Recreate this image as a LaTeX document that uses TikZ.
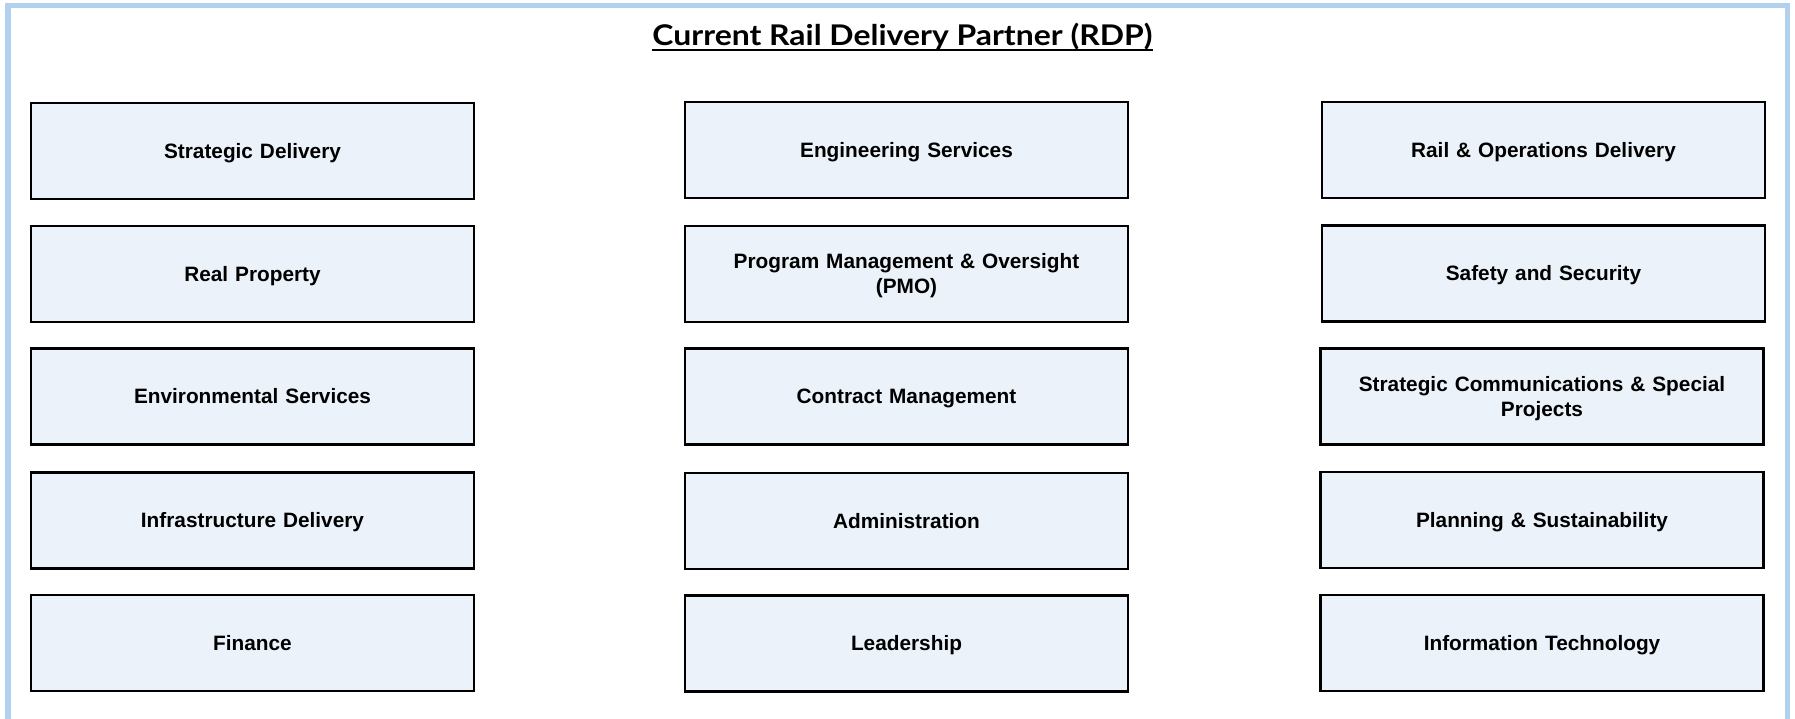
\documentclass[tikz,border=0pt]{standalone}
\usepackage{fontspec}
\usepackage{graphicx}
\setmainfont{Liberation Sans}
\newfontfamily\titlefont{Lato}
\definecolor{framecol}{RGB}{178,209,238}
\definecolor{boxfill}{RGB}{235,242,250}
\begin{document}
\begin{tikzpicture}[x=1pt,y=-1pt,
  unit/.style={draw=black, line width=2.4pt, fill=boxfill, minimum width=443pt, minimum height=96pt,
    inner sep=2pt, align=center, text width=430pt,
    execute at begin node={\rule{0pt}{19.5pt}},
    execute at end node={\rule[-5pt]{0pt}{5pt}},
    font=\fontsize{20.8}{25}\selectfont\bfseries},
  titlestyle/.style={inner sep=0pt, anchor=base, font=\titlefont\fontsize{28.5}{32}\selectfont\bfseries}]
\useasboundingbox (0,0) rectangle (1795,719);
\fill[white] (0,0) rectangle (1795,719);
\draw[framecol, line width=5.5pt] (8,5.5) rectangle (1787.5,722);
\node[titlestyle] (title) at (902.5,45.5) {\scalebox{1.12}[1]{Current Rail Delivery Partner (RDP)}};
\draw[line width=2pt] ([yshift=-4.5pt]title.base west) -- ([yshift=-4.5pt]title.base east);
% column 1
\node[unit] (sd) at (252.5,151) {Strategic Delivery};
\node[unit] (rp) at (252.5,274) {Real Property};
\node[unit] (es) at (252.5,396.5) {Environmental Services};
\node[unit] (id) at (252.5,520.5) {Infrastructure Delivery};
\node[unit] (fi) at (252.5,643) {Finance};
% column 2
\node[unit] (en) at (906.5,150) {Engineering Services};
\node[unit] (pmo) at (906.5,274) {Program Management \& Oversight\\(PMO)};
\node[unit] (cm) at (906.5,396.5) {Contract Management};
\node[unit] (ad) at (906.5,521) {Administration};
\node[unit] (le) at (906.5,643.5) {Leadership};
% column 3
\node[unit] (ro) at (1543.5,150) {Rail \& Operations Delivery};
\node[unit] (ss) at (1543.5,273.5) {Safety and Security};
\node[unit] (sc) at (1542,396.5) {Strategic Communications \& Special\\Projects};
\node[unit] (ps) at (1542,520) {Planning \& Sustainability};
\node[unit] (it) at (1542,643) {Information Technology};
\end{tikzpicture}
\end{document}
